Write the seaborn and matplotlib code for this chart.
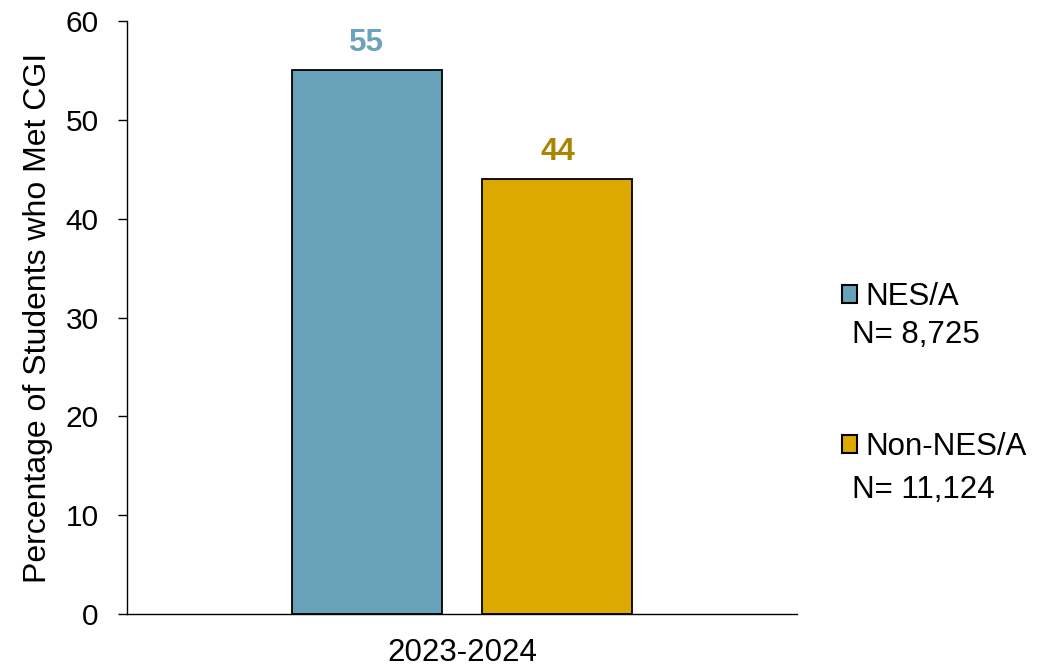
import pandas as pd
import seaborn as sns
import matplotlib.pyplot as plt
from matplotlib.patches import Patch

# data
years = ["2023-2024"]
groups = ["NES/A", "Non-NES/A"]
values = [55, 44]
n_labels = ["N= 8,725", "N= 11,124"]
bar_colors = ["#67A2B9", "#DBA900"]
label_colors = ["#6BA3BA", "#A88400"]

df = pd.DataFrame({"year": years * 2, "group": groups, "pct": values})

sns.set_style("white")
plt.rcParams["font.family"] = ["Liberation Sans", "DejaVu Sans"]
plt.rcParams["text.color"] = "black"
plt.rcParams["axes.labelcolor"] = "black"
plt.rcParams["xtick.color"] = "black"
plt.rcParams["ytick.color"] = "black"

fig = plt.figure(figsize=(10.56, 6.71), dpi=100)
ax = fig.add_axes([0.1203, 0.0849, 0.6344, 0.8838])

sns.barplot(data=df, x="year", y="pct", hue="group", palette=bar_colors,
            saturation=1, width=0.57, gap=0.214, edgecolor="black",
            linewidth=1.3, legend=False, ax=ax)

# value labels
for cont, col in zip(ax.containers, label_colors):
    ax.bar_label(cont, fmt="%d", padding=9, color=col, fontsize=22.5,
                 fontweight="bold")

ax.set_xlim(-0.5, 0.5)
ax.set_ylim(0, 60)
ax.set_yticks(range(0, 61, 10))
ax.set_xlabel("")
ax.set_ylabel("Percentage of Students who Met CGI", fontsize=23, labelpad=9)
ax.tick_params(axis="y", labelsize=21.5, length=6.5, width=1, left=True, pad=14)
ax.tick_params(axis="x", labelsize=22.5, length=0, pad=17)
sns.despine(ax=ax)
for s in ["left", "bottom"]:
    ax.spines[s].set_color("black")
    ax.spines[s].set_linewidth(1)

# legend
handles = [Patch(facecolor=c, edgecolor="black", linewidth=1.5) for c in bar_colors]
fig.legend(handles, groups, loc="center left",
           bbox_to_anchor=(0.797, 1 - 372 / 671), frameon=False, fontsize=22.5,
           handlelength=0.5, handleheight=0.5, handletextpad=0.25,
           labelspacing=3.85, borderaxespad=0, borderpad=0)
fig.text(852 / 1056, 1 - 335 / 671, n_labels[0], fontsize=22.5, va="center")
fig.text(852 / 1056, 1 - 490 / 671, n_labels[1], fontsize=22.5, va="center")

fig.savefig("out.png", dpi=100)
